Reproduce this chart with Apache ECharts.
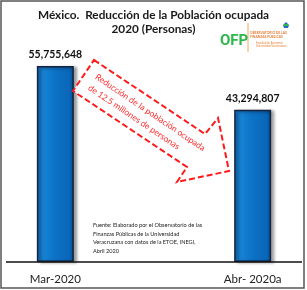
<!DOCTYPE html>
<html><head><meta charset="utf-8">
<script src="https://cdn.jsdelivr.net/npm/echarts@6/dist/echarts.min.js"></script>
<style>html,body{margin:0;padding:0;background:#fff}#c{width:307px;height:290px}</style>
</head><body><div id="c"></div>
<script>
const titleLines = ['México.  Reducción de la Población ocupada', '2020 (Personas)'];
const categories = ['Mar-2020', '', 'Abr- 2020a'];
const values = [55755648, null, 43294807];
const arrowText = ['Reducción de la población ocupada', 'de 12.5 millones de personas'];
const sourceText = 'Fuente: Elaborado por el Observatorio de las\nFinanzas Públicas de la Universidad\nVeracruzana con datos de la ETOE, INEGI,\nAbril 2020';

const chart = echarts.init(document.getElementById('c'), null, {renderer: 'canvas'});
const F = 'Lato, "Open Sans", sans-serif';
const ang = -34 * Math.PI / 180;
chart.setOption({
  animation: false,
  backgroundColor: '#fff',
  title: {
    text: titleLines.join('\n'), left: 'center', top: 3,
    textStyle: {fontFamily: F, fontWeight: 'bold', fontSize: 11.8, color: '#1a1a1a', lineHeight: 14}
  },
  grid: {left: 6, right: 5, top: 16, bottom: 28, containLabel: false},
  xAxis: {
    type: 'category', data: categories,
    axisLine: {show: false}, axisTick: {show: false},
    axisLabel: {fontFamily: F, fontSize: 11.5, color: '#222', margin: 11}
  },
  yAxis: {type: 'value', min: 0, max: 70000000, show: false, splitLine: {show: false}},
  series: [{
    type: 'bar', data: values, barWidth: 37,
    itemStyle: {
      color: new echarts.graphic.LinearGradient(0, 0, 1, 0, [
        {offset: 0, color: '#0a5cae'}, {offset: 0.12, color: '#1a86d8'},
        {offset: 0.5, color: '#0b72c6'}, {offset: 0.88, color: '#0a66b8'}, {offset: 1, color: '#064a8c'}
      ]),
      borderColor: '#14233f', borderWidth: 1.5,
      shadowColor: 'rgba(0,0,0,0.45)', shadowBlur: 3, shadowOffsetX: 3, shadowOffsetY: 1
    },
    label: {
      show: true, position: 'top', distance: 6,
      formatter: p => p.value == null ? '' : p.value.toLocaleString('en-US'),
      fontFamily: F, fontWeight: 'bold', fontSize: 10.5, color: '#111'
    }
  }],
  graphic: [
    {type: 'rect', shape: {x: 1, y: 1, width: 303, height: 287}, style: {fill: 'none', stroke: '#555', lineWidth: 1.5}, z: 100},
    {type: 'line', shape: {x1: 6, y1: 262, x2: 302, y2: 262}, style: {stroke: '#111', lineWidth: 1.5}, z: 50},
    {type: 'polygon', z: 20,
      shape: {points: [[94,60],[205,134],[218,118],[229,171],[177,182],[187,167],[73,91]]},
      style: {fill: 'rgba(255,255,255,0.9)', stroke: '#ff1a1a', lineWidth: 2, lineDash: [6, 3]}},
    {type: 'text', x: 96, y: 76, rotation: ang, z: 21,
      style: {text: arrowText[0], fill: '#ff2a2a', font: '8.5px ' + F, align: 'left', verticalAlign: 'middle'}},
    {type: 'text', x: 89, y: 87, rotation: ang, z: 21,
      style: {text: arrowText[1], fill: '#ff2a2a', font: '8.5px ' + F, align: 'left', verticalAlign: 'middle'}},
    {type: 'text', x: 93, y: 221, z: 21,
      style: {text: sourceText, fill: '#222', font: '5.6px ' + F, lineHeight: 8.5, align: 'left', verticalAlign: 'top'}},
    {type: 'text', x: 220, y: 41, z: 21,
      style: {text: 'OFP', fill: '#2db84b', font: 'bold 15px "Liberation Sans Narrow", "Roboto", sans-serif', align: 'left', verticalAlign: 'middle'}},
    {type: 'line', shape: {x1: 248, y1: 23, x2: 248, y2: 52}, style: {stroke: '#f4a460', lineWidth: 1}},
    {type: 'text', x: 250, y: 31, z: 21,
      style: {text: 'OBSERVATORIO DE LAS\nFINANZAS PÚBLICAS', fill: '#e8803a', font: 'bold 3.3px ' + F, lineHeight: 4, align: 'left', verticalAlign: 'top'}},
    {type: 'text', x: 256, y: 41, z: 21,
      style: {text: 'Facultad de Economía\nUniversidad Veracruzana', fill: '#e8803a', font: '2.8px ' + F, lineHeight: 3.5, align: 'left', verticalAlign: 'top'}},
    {type: 'polygon', shape: {points: [[286,22],[289,25],[288,28],[284,28],[283,25]]}, style: {fill: '#2a6bc0'}},
    {type: 'rect', shape: {x: 284, y: 24, width: 4, height: 2}, style: {fill: '#2db84b'}}
  ]
});
</script></body></html>
